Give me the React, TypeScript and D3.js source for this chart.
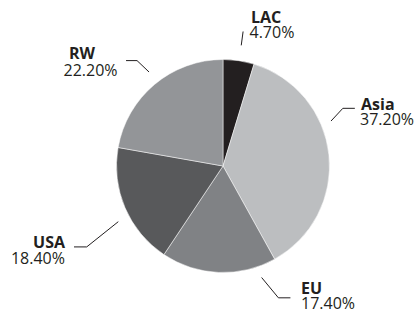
import { useEffect, useRef } from "react";
import * as d3 from "d3";

const regions = ["LAC", "Asia", "EU", "USA", "RW"];
const shares = [4.7, 37.2, 17.4, 18.4, 22.2];
const shareLabels = ["4.70%", "37.20%", "17.40%", "18.40%", "22.20%"];
const colors = ["#231f20", "#bcbec0", "#808285", "#58595b", "#939598"];

// leader lines: start/elbow in polar coords (deg from 12 o'clock), then a horizontal tail
const leaders = [
  { a0: 8.6, r0: 122, a1: 8.5, r1: 136, tail: 0 },
  { a0: 67.4, r0: 117, a1: 64.3, r1: 133, tail: 12 },
  { a0: 160.9, r0: 118, a1: 157.2, r1: 143, tail: 12 },
  { a0: 242, r0: 118.6, a1: 239.3, r1: 158.5, tail: -12.7 },
  { a0: 321.8, r0: 119.6, a1: 320.8, r1: 136, tail: -11 },
];

// label text placement
const labelPos = [
  { x1: 251, y1: 23, x2: 249.5, y2: 38, anchor: "start" },
  { x1: 361, y1: 110, x2: 360, y2: 125, anchor: "start" },
  { x1: 301, y1: 294.3, x2: 301, y2: 309.3, anchor: "start" },
  { x1: 65, y1: 248.3, x2: 65, y2: 264.3, anchor: "end" },
  { x1: 69, y1: 59, x2: 63.5, y2: 76, anchor: "start" },
];

export default function App() {
  const svgRef = useRef<SVGSVGElement>(null);

  useEffect(() => {
    if (!svgRef.current) return;
    const W = 417, H = 313;
    const cx = 223, cy = 166, R = 106.5;
    const svg = d3.select(svgRef.current);
    svg.selectAll("*").remove();
    svg.attr("width", W).attr("height", H).attr("viewBox", `0 0 ${W} ${H}`);

    svg.append("rect").attr("width", W).attr("height", H).attr("fill", "#ffffff");

    const pie = d3.pie<number>().sort(null).value(d => d);
    const arc = d3.arc<d3.PieArcDatum<number>>().innerRadius(0).outerRadius(R);

    const g = svg.append("g").attr("transform", `translate(${cx},${cy})`);
    g.selectAll("path.slice")
      .data(pie(shares))
      .enter()
      .append("path")
      .attr("class", "slice")
      .attr("d", arc)
      .attr("fill", (_d, i) => colors[i])
      .attr("stroke", "#ffffff")
      .attr("stroke-width", 0.5);

    const rad = (deg: number) => (deg * Math.PI) / 180;
    const line = d3.line<[number, number]>();
    leaders.forEach(l => {
      const p0 = d3.pointRadial(rad(l.a0), l.r0) as [number, number];
      const p1 = d3.pointRadial(rad(l.a1), l.r1) as [number, number];
      const pts: [number, number][] = [p0, p1];
      if (l.tail !== 0) pts.push([p1[0] + l.tail, p1[1]]);
      g.append("path")
        .attr("d", line(pts))
        .attr("fill", "none")
        .attr("stroke", "#231f20")
        .attr("stroke-width", 1);
    });

    const font = "'Open Sans', 'DejaVu Sans', sans-serif";
    regions.forEach((name, i) => {
      const p = labelPos[i];
      svg.append("text")
        .attr("x", p.x1).attr("y", p.y1)
        .attr("text-anchor", p.anchor)
        .attr("font-family", font)
        .attr("font-size", 16)
        .attr("font-weight", 700)
        .attr("fill", "#231f20")
        .text(name);
      svg.append("text")
        .attr("x", p.x2).attr("y", p.y2)
        .attr("text-anchor", p.anchor)
        .attr("font-family", font)
        .attr("font-size", 16)
        .attr("fill", "#231f20")
        .text(shareLabels[i]);
    });
  }, []);

  return (
    <div style={{ position: "absolute", left: 0, top: 0 }}>
      <svg ref={svgRef} style={{ display: "block" }} />
    </div>
  );
}
